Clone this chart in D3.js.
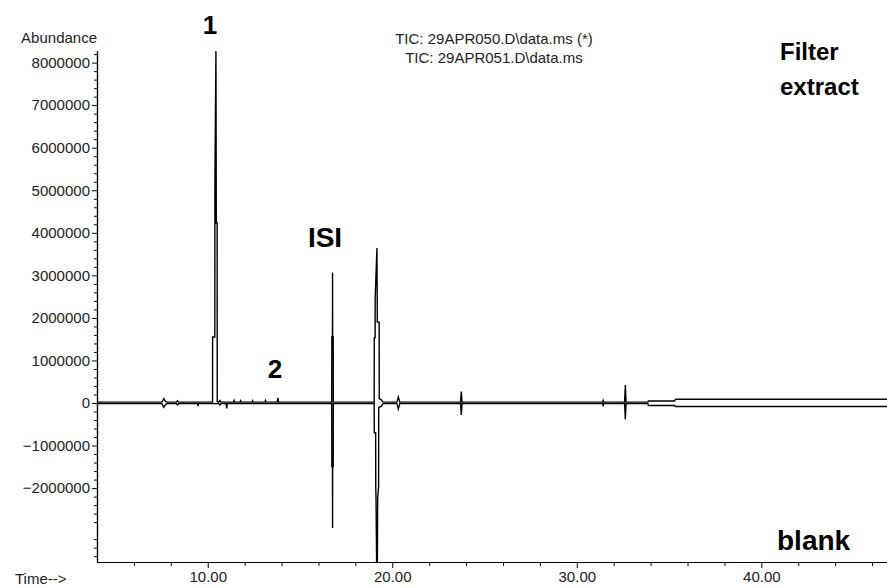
<!DOCTYPE html>
<html>
<head>
<meta charset="utf-8">
<script src="https://cdn.jsdelivr.net/npm/d3@7"></script>
<style>
    body { margin: 0; background: #fff; }
    svg { display: block; }
    .axis text { font-family: "Liberation Sans", Arial, sans-serif; font-size: 15px; fill: #222; }
    .axis path, .axis line { stroke: #000; }
    .small-label { font-family: "Liberation Sans", Arial, sans-serif; font-size: 15px; fill: #222; }
    .big-label { font-family: "Liberation Sans", Arial, sans-serif; font-weight: bold; fill: #000; }
</style>
</head>
<body>
<svg id="chart"></svg>
<script>

// Filter extract trace (upward), time in minutes / abundance
const extractTime = [4.00, 7.52, 7.62, 7.72, 7.80, 8.30, 8.36, 8.42,
    10.26, 10.265, 10.385, 10.39, 10.445, 10.465, 10.51, 10.515, 10.60, 10.66, 10.72,
    11.40, 11.43, 11.46, 11.75, 11.78, 11.81, 12.40, 12.43, 12.46, 13.10, 13.13, 13.16,
    13.76, 13.80, 13.84,
    16.72, 16.725, 16.76, 16.765, 16.77, 16.80, 16.805,
    19.02, 19.025, 19.07, 19.075, 19.17, 19.19, 19.29, 19.295, 19.40, 19.50,
    20.25, 20.33, 20.41, 23.70, 23.74, 23.78, 31.40, 31.43, 31.46, 32.59, 32.63, 32.67,
    33.85, 33.88, 35.30, 35.35, 46.81]
const extractAbundance = [20000, 20000, 100000, 30000, 20000, 20000, 50000, 20000,
    20000, 1550000, 1550000, 5190000, 8270000, 4230000, 4230000, 30000, 20000, 60000, 20000,
    20000, 60000, 20000, 20000, 50000, 20000, 20000, 55000, 20000, 20000, 60000, 20000,
    20000, 120000, 20000,
    20000, 1560000, 1580000, 3060000, 1580000, 1560000, 20000,
    20000, 1530000, 1530000, 2470000, 3640000, 1900000, 1900000, 100000, 80000, 20000,
    20000, 140000, 20000, 20000, 270000, 20000, 20000, 60000, 20000, 20000, 420000, 20000,
    20000, 47000, 47000, 87000, 87000]

// blank trace (drawn mirrored downward)
const blankTime = [4.00, 7.52, 7.62, 7.72, 7.80, 8.30, 8.36, 8.42, 9.44, 9.47, 9.50,
    10.60, 10.66, 10.72, 11.00, 11.03, 11.06,
    16.72, 16.725, 16.76, 16.765, 16.77, 16.80, 16.805,
    19.02, 19.025, 19.10, 19.105, 19.12, 19.18, 19.21, 19.26, 19.265, 19.40, 19.50,
    20.25, 20.33, 20.41, 23.70, 23.74, 23.78, 31.40, 31.43, 31.46, 32.59, 32.63, 32.67,
    33.85, 33.88, 35.30, 35.35, 46.81]
const blankAbundance = [15000, 15000, 100000, 30000, 15000, 15000, 40000, 15000, 15000, 70000, 15000,
    15000, 50000, 15000, 15000, 130000, 15000,
    15000, 1500000, 1520000, 2940000, 1520000, 1500000, 15000,
    15000, 700000, 700000, 1970000, 2230000, 5000000, 2230000, 1970000, 100000, 80000, 15000,
    15000, 140000, 15000, 15000, 280000, 15000, 15000, 80000, 15000, 15000, 380000, 15000,
    15000, 59000, 59000, 82000, 82000]

const yTickValues = [-2000000, -1000000, 0, 1000000, 2000000, 3000000, 4000000, 5000000, 6000000, 7000000, 8000000]
const xTickValues = [10, 20, 30, 40]
const titleLines = ["TIC: 29APR050.D\\data.ms (*)", "TIC: 29APR051.D\\data.ms"]


class Chromatogram {

    constructor(parentElement) {
        let vis = this

        vis.width = 887
        vis.height = 588
        vis.plot = {left: 97, right: 887, top: 51, bottom: 562}

        vis.svg = d3.select(parentElement)
            .attr('width', vis.width)
            .attr('height', vis.height)

        vis.x = d3.scaleLinear().domain([4.0, 46.81]).range([vis.plot.left, vis.plot.right])
        vis.y = d3.scaleLinear().domain([-3737000, 8273000]).range([vis.plot.bottom, vis.plot.top])

        vis.svg.append('defs').append('clipPath')
            .attr('id', 'plot-clip')
            .append('rect')
            .attr('x', vis.plot.left)
            .attr('y', vis.plot.top - 2)
            .attr('width', vis.plot.right - vis.plot.left)
            .attr('height', vis.plot.bottom - vis.plot.top + 2)

        vis.drawAxes()
        vis.drawTraces()
        vis.drawLabels()
    }

    drawAxes() {
        let vis = this

        // minor ticks first, majors on top
        let yMinor = d3.range(-3600000, 8200001, 200000).filter(v => v % 1000000 !== 0)
        vis.svg.append('g')
            .attr('class', 'axis')
            .attr('transform', `translate(${vis.plot.left},0)`)
            .call(d3.axisLeft(vis.y).tickValues(yMinor).tickSize(3).tickSizeOuter(0).tickFormat(''))

        vis.svg.append('g')
            .attr('class', 'axis')
            .attr('transform', `translate(${vis.plot.left},0)`)
            .call(d3.axisLeft(vis.y).tickValues(yTickValues).tickSize(5).tickSizeOuter(0)
                .tickPadding(2).tickFormat(d3.format('d')))

        let xMinor = d3.range(6, 46.5, 2).filter(v => v % 10 !== 0)
        vis.svg.append('g')
            .attr('class', 'axis')
            .attr('transform', `translate(0,${vis.plot.bottom})`)
            .call(d3.axisBottom(vis.x).tickValues(xMinor).tickSize(4).tickSizeOuter(0).tickFormat(''))

        vis.svg.append('g')
            .attr('class', 'axis')
            .attr('transform', `translate(0,${vis.plot.bottom})`)
            .call(d3.axisBottom(vis.x).tickValues(xTickValues).tickSize(6).tickSizeOuter(0)
                .tickPadding(3).tickFormat(d3.format('.2f')))

        vis.svg.selectAll('.axis .domain').attr('stroke-width', 1.2)
    }

    drawTraces() {
        let vis = this

        let extract = extractTime.map((t, i) => ({t: t, v: extractAbundance[i]}))
        let blank = blankTime.map((t, i) => ({t: t, v: -blankAbundance[i]}))

        let line = d3.line()
            .x(d => vis.x(d.t))
            .y(d => vis.y(d.v))

        let traces = vis.svg.append('g').attr('clip-path', 'url(#plot-clip)')
        traces.selectAll('path')
            .data([blank, extract])
            .join('path')
            .attr('d', line)
            .attr('fill', 'none')
            .attr('stroke', '#000')
            .attr('stroke-width', 1.4)
    }

    drawLabels() {
        let vis = this

        vis.svg.append('text')
            .attr('class', 'small-label')
            .attr('x', vis.plot.left)
            .attr('y', 43)
            .attr('text-anchor', 'end')
            .text('Abundance')

        vis.svg.append('text')
            .attr('class', 'small-label')
            .attr('x', 15)
            .attr('y', 584)
            .text('Time-->')

        vis.svg.selectAll('.title-line')
            .data(titleLines)
            .join('text')
            .attr('class', 'small-label title-line')
            .attr('x', 494)
            .attr('y', (d, i) => 44 + i * 19)
            .attr('text-anchor', 'middle')
            .text(d => d)

        let big = [
            {text: '1', x: 210, y: 34, size: 26, anchor: 'middle'},
            {text: '2', x: 275, y: 378, size: 26, anchor: 'middle'},
            {text: 'ISI', x: 325, y: 247, size: 28, anchor: 'middle'},
            {text: 'Filter', x: 780, y: 60, size: 24, anchor: 'start'},
            {text: 'extract', x: 780, y: 95, size: 24, anchor: 'start'},
            {text: 'blank', x: 777, y: 550, size: 28, anchor: 'start'}
        ]
        vis.svg.selectAll('.big-label')
            .data(big)
            .join('text')
            .attr('class', 'big-label')
            .attr('x', d => d.x)
            .attr('y', d => d.y)
            .attr('text-anchor', d => d.anchor)
            .attr('font-size', d => d.size + 'px')
            .text(d => d.text)
    }
}

let chart = new Chromatogram('#chart')

</script>
</body>
</html>
